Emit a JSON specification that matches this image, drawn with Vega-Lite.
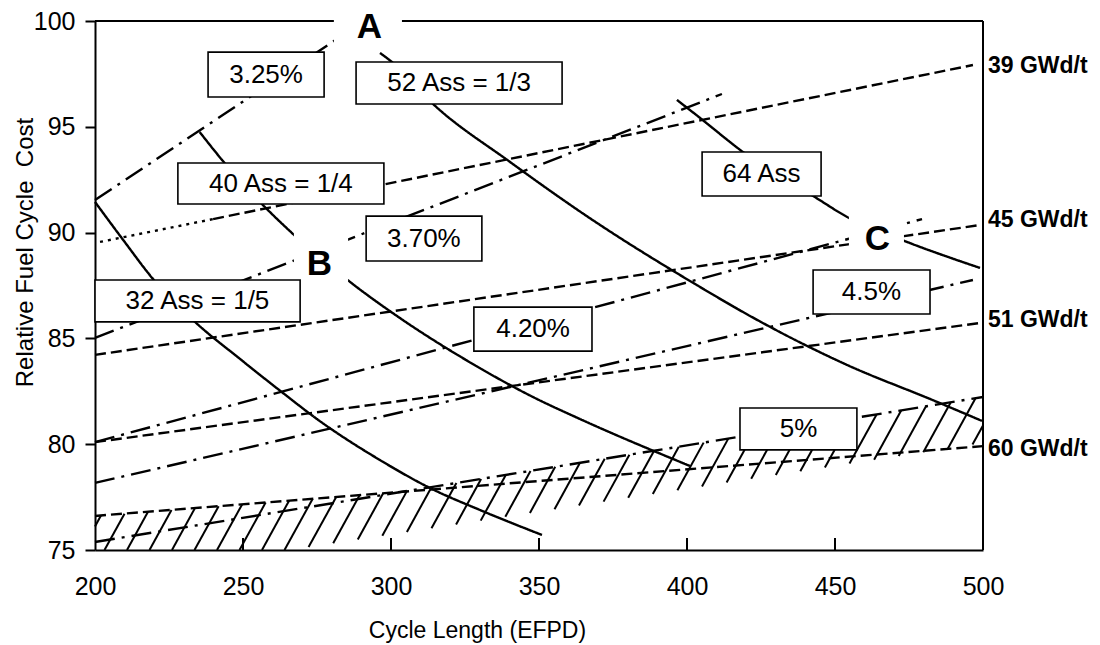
{
  "$schema": "https://vega.github.io/schema/vega-lite/v6.json",
  "width": 888,
  "height": 529,
  "autosize": {"type": "none"},
  "padding": {"left": 95, "top": 21, "right": 117, "bottom": 95},
  "background": "white",
  "config": {
    "view": {"stroke": null},
    "font": "Liberation Sans",
    "axis": {
      "domainColor": "black", "domainWidth": 2, "tickColor": "black", "tickWidth": 2,
      "labelColor": "black", "labelFont": "Liberation Sans", "labelFontSize": 25, "labelFlush": false,
      "grid": false, "titleColor": "black", "titleFont": "Liberation Sans", "titleFontWeight": "normal"
    },
    "axisX": {"ticks": false, "tickSize": 0, "labelPadding": 24, "titleFontSize": 23},
    "axisY": {"tickSize": 10, "labelPadding": 10, "titleFontSize": 24}
  },
  "datasets": {
    "hatch": [
      {"x": 200.00, "y": 76.115, "x2": 202.01, "y2": 76.630},
      {"x": 203.21, "y": 75.000, "x2": 209.97, "y2": 76.715},
      {"x": 210.81, "y": 75.000, "x2": 217.91, "y2": 76.805},
      {"x": 218.41, "y": 75.000, "x2": 225.84, "y2": 76.890},
      {"x": 226.01, "y": 75.000, "x2": 233.78, "y2": 76.980},
      {"x": 233.61, "y": 75.000, "x2": 241.76, "y2": 77.065},
      {"x": 241.22, "y": 75.000, "x2": 249.70, "y2": 77.155},
      {"x": 248.82, "y": 75.000, "x2": 257.64, "y2": 77.241},
      {"x": 256.42, "y": 75.000, "x2": 265.57, "y2": 77.330},
      {"x": 264.02, "y": 75.000, "x2": 273.51, "y2": 77.415},
      {"x": 272.16, "y": 75.137, "x2": 281.49, "y2": 77.505},
      {"x": 280.47, "y": 75.317, "x2": 289.43, "y2": 77.595},
      {"x": 288.78, "y": 75.496, "x2": 297.36, "y2": 77.680},
      {"x": 297.06, "y": 75.676, "x2": 305.37, "y2": 77.783},
      {"x": 305.37, "y": 75.855, "x2": 313.72, "y2": 77.978},
      {"x": 313.68, "y": 76.030, "x2": 322.09, "y2": 78.166},
      {"x": 321.99, "y": 76.210, "x2": 330.44, "y2": 78.355},
      {"x": 330.30, "y": 76.389, "x2": 338.78, "y2": 78.549},
      {"x": 338.62, "y": 76.569, "x2": 347.13, "y2": 78.738},
      {"x": 346.93, "y": 76.748, "x2": 355.47, "y2": 78.932},
      {"x": 355.24, "y": 76.928, "x2": 363.85, "y2": 79.121},
      {"x": 363.51, "y": 77.108, "x2": 372.20, "y2": 79.310},
      {"x": 371.82, "y": 77.287, "x2": 380.54, "y2": 79.504},
      {"x": 380.14, "y": 77.467, "x2": 388.89, "y2": 79.693},
      {"x": 388.45, "y": 77.646, "x2": 397.23, "y2": 79.882},
      {"x": 396.76, "y": 77.826, "x2": 405.61, "y2": 80.075},
      {"x": 405.07, "y": 78.005, "x2": 413.95, "y2": 80.264},
      {"x": 413.38, "y": 78.185, "x2": 422.30, "y2": 80.458},
      {"x": 421.69, "y": 78.365, "x2": 430.64, "y2": 80.647},
      {"x": 430.00, "y": 78.544, "x2": 438.99, "y2": 80.836},
      {"x": 438.28, "y": 78.724, "x2": 447.37, "y2": 81.030},
      {"x": 446.59, "y": 78.903, "x2": 455.71, "y2": 81.219},
      {"x": 454.90, "y": 79.083, "x2": 464.05, "y2": 81.408},
      {"x": 463.21, "y": 79.262, "x2": 472.40, "y2": 81.602},
      {"x": 471.52, "y": 79.442, "x2": 480.74, "y2": 81.791},
      {"x": 479.83, "y": 79.621, "x2": 489.12, "y2": 81.980},
      {"x": 488.14, "y": 79.801, "x2": 497.47, "y2": 82.174},
      {"x": 496.45, "y": 79.981, "x2": 500.00, "y2": 80.884}
    ],
    "curves": [
      {"series": "3.25%", "style": "dashdot", "x": 200, "y": 91.54},
      {"series": "3.25%", "style": "dashdot", "x": 290.9, "y": 100.0},
      {"series": "3.70%", "style": "dashdot", "x": 200, "y": 85.02},
      {"series": "3.70%", "style": "dashdot", "x": 411.8, "y": 96.55},
      {"series": "4.20%", "style": "dashdot", "x": 200, "y": 80.10},
      {"series": "4.20%", "style": "dashdot", "x": 479.4, "y": 90.64},
      {"series": "4.5%", "style": "dashdot", "x": 200, "y": 78.17},
      {"series": "4.5%", "style": "dashdot", "x": 496.6, "y": 87.76},
      {"series": "5%", "style": "dashdot", "x": 200, "y": 75.38},
      {"series": "5%", "style": "dashdot", "x": 500, "y": 82.23},
      {"series": "39 GWd/t a", "style": "dotted", "x": 201.7, "y": 89.56},
      {"series": "39 GWd/t a", "style": "dotted", "x": 239.9, "y": 90.64},
      {"series": "39 GWd/t b", "style": "dashed", "x": 239.9, "y": 90.64},
      {"series": "39 GWd/t b", "style": "dashed", "x": 496.6, "y": 97.92},
      {"series": "45 GWd/t", "style": "dashed", "x": 200, "y": 84.22},
      {"series": "45 GWd/t", "style": "dashed", "x": 499.0, "y": 90.36},
      {"series": "51 GWd/t", "style": "dashed", "x": 200, "y": 80.10},
      {"series": "51 GWd/t", "style": "dashed", "x": 499.0, "y": 85.73},
      {"series": "60 GWd/t", "style": "dashed", "x": 200, "y": 76.61},
      {"series": "60 GWd/t", "style": "dashed", "x": 500, "y": 79.91},
      {"series": "32 Ass", "style": "solid", "x": 200.0, "y": 91.45},
      {"series": "32 Ass", "style": "solid", "x": 209.80, "y": 89.60},
      {"series": "32 Ass", "style": "solid", "x": 219.59, "y": 87.81},
      {"series": "32 Ass", "style": "solid", "x": 233.78, "y": 85.78},
      {"series": "32 Ass", "style": "solid", "x": 248.99, "y": 84.03},
      {"series": "32 Ass", "style": "solid", "x": 263.51, "y": 82.42},
      {"series": "32 Ass", "style": "solid", "x": 274.99, "y": 81.19},
      {"series": "32 Ass", "style": "solid", "x": 296.28, "y": 79.25},
      {"series": "32 Ass", "style": "solid", "x": 313.17, "y": 77.93},
      {"series": "32 Ass", "style": "solid", "x": 330.07, "y": 76.89},
      {"series": "32 Ass", "style": "solid", "x": 351.01, "y": 75.71},
      {"series": "40 Ass", "style": "solid", "x": 235.38, "y": 94.75},
      {"series": "40 Ass", "style": "solid", "x": 243.24, "y": 93.38},
      {"series": "40 Ass", "style": "solid", "x": 256.76, "y": 91.30},
      {"series": "40 Ass", "style": "solid", "x": 266.55, "y": 89.98},
      {"series": "40 Ass", "style": "solid", "x": 286.15, "y": 87.67},
      {"series": "40 Ass", "style": "solid", "x": 303.04, "y": 85.96},
      {"series": "40 Ass", "style": "solid", "x": 325.34, "y": 83.98},
      {"series": "40 Ass", "style": "solid", "x": 347.97, "y": 82.23},
      {"series": "40 Ass", "style": "solid", "x": 363.85, "y": 81.19},
      {"series": "40 Ass", "style": "solid", "x": 401.01, "y": 78.97},
      {"series": "52 Ass", "style": "solid", "x": 296.28, "y": 98.49},
      {"series": "52 Ass", "style": "solid", "x": 300.34, "y": 98.06},
      {"series": "52 Ass", "style": "solid", "x": 314.19, "y": 96.08},
      {"series": "52 Ass", "style": "solid", "x": 340.20, "y": 93.34},
      {"series": "52 Ass", "style": "solid", "x": 366.56, "y": 90.74},
      {"series": "52 Ass", "style": "solid", "x": 404.40, "y": 87.43},
      {"series": "52 Ass", "style": "solid", "x": 421.29, "y": 86.06},
      {"series": "52 Ass", "style": "solid", "x": 453.38, "y": 83.79},
      {"series": "52 Ass", "style": "solid", "x": 483.79, "y": 82.04},
      {"series": "52 Ass", "style": "solid", "x": 499.67, "y": 81.10},
      {"series": "64 Ass", "style": "solid", "x": 396.6, "y": 96.27},
      {"series": "64 Ass", "style": "solid", "x": 404.4, "y": 95.42},
      {"series": "64 Ass", "style": "solid", "x": 418.9, "y": 93.81},
      {"series": "64 Ass", "style": "solid", "x": 443.2, "y": 91.68},
      {"series": "64 Ass", "style": "solid", "x": 454.1, "y": 90.74},
      {"series": "64 Ass", "style": "solid", "x": 474.3, "y": 89.56},
      {"series": "64 Ass", "style": "solid", "x": 499.0, "y": 88.33}
    ],
    "frame": [
      {"x": 200, "y": 100, "x2": 500, "y2": 100},
      {"x": 500, "y": 75, "x2": 500, "y2": 100},
      {"x": 250, "y": 75, "x2": 250, "y2": 75.57},
      {"x": 300, "y": 75, "x2": 300, "y2": 75.57},
      {"x": 350, "y": 75, "x2": 350, "y2": 75.57},
      {"x": 400, "y": 75, "x2": 400, "y2": 75.57},
      {"x": 450, "y": 75, "x2": 450, "y2": 75.57}
    ],
    "gaps": [
      {"letter": "A", "x": 280.7, "x2": 303.7, "y": 98.63, "y2": 100.6},
      {"letter": "B", "x": 267.2, "x2": 285.5, "y": 87.38, "y2": 90.03},
      {"letter": "C", "x": 454.7, "x2": 473.3, "y": 88.61, "y2": 91.07}
    ],
    "boxes": [
      {"label": "3.25%", "x": 238.2, "x2": 277.4, "y": 96.41, "y2": 98.53},
      {"label": "52 Ass = 1/3", "x": 288.2, "x2": 357.8, "y": 96.08, "y2": 98.06},
      {"label": "40 Ass = 1/4", "x": 228.0, "x2": 297.6, "y": 91.35, "y2": 93.29},
      {"label": "64 Ass", "x": 405.1, "x2": 445.3, "y": 91.73, "y2": 93.81},
      {"label": "3.70%", "x": 291.6, "x2": 330.7, "y": 88.66, "y2": 90.78},
      {"label": "32 Ass = 1/5", "x": 200.0, "x2": 269.3, "y": 85.78, "y2": 87.76},
      {"label": "4.20%", "x": 328.0, "x2": 367.9, "y": 84.40, "y2": 86.48},
      {"label": "4.5%", "x": 442.6, "x2": 482.1, "y": 86.15, "y2": 88.23},
      {"label": "5%", "x": 417.9, "x2": 457.4, "y": 79.73, "y2": 81.71}
    ],
    "boxtext": [
      {"label": "3.25%", "x": 257.8, "y": 97.47},
      {"label": "52 Ass = 1/3", "x": 323.0, "y": 97.07},
      {"label": "40 Ass = 1/4", "x": 262.8, "y": 92.32},
      {"label": "64 Ass", "x": 425.2, "y": 92.77},
      {"label": "3.70%", "x": 311.1, "y": 89.72},
      {"label": "32 Ass = 1/5", "x": 234.6, "y": 86.77},
      {"label": "4.20%", "x": 348.0, "y": 85.44},
      {"label": "4.5%", "x": 462.3, "y": 87.19},
      {"label": "5%", "x": 437.7, "y": 80.72}
    ],
    "letters": [
      {"label": "A", "x": 292.74, "y": 99.197},
      {"label": "B", "x": 275.84, "y": 87.996},
      {"label": "C", "x": 464.36, "y": 89.20}
    ],
    "burnup": [
      {"label": "39 GWd/t", "x": 500, "y": 97.87},
      {"label": "45 GWd/t", "x": 500, "y": 90.59},
      {"label": "51 GWd/t", "x": 500, "y": 85.87},
      {"label": "60 GWd/t", "x": 500, "y": 79.75}
    ]
  },
  "layer": [
    {
      "data": {"name": "hatch"},
      "mark": {"type": "rule", "color": "black", "strokeWidth": 2},
      "encoding": {
        "x": {"field": "x", "type": "quantitative", "scale": {"domain": [200, 500], "nice": false, "zero": false},
              "axis": {"values": [200, 250, 300, 350, 400, 450, 500], "title": "Cycle Length (EFPD)", "titleX": 382, "titleY": 87, "titleAlign": "center", "titleBaseline": "alphabetic"}},
        "y": {"field": "y", "type": "quantitative", "scale": {"domain": [75, 100], "nice": false, "zero": false},
              "axis": {"values": [75, 80, 85, 90, 95, 100], "title": "Relative Fuel Cycle\u00a0 Cost", "titleX": -63, "titleY": 231, "titleAngle": -90, "titleAlign": "center", "titleBaseline": "alphabetic"}},
        "x2": {"field": "x2"},
        "y2": {"field": "y2"}
      }
    },
    {
      "data": {"name": "curves"},
      "mark": {"type": "line", "color": "black", "strokeWidth": 2.4, "interpolate": "monotone"},
      "encoding": {
        "x": {"field": "x", "type": "quantitative"},
        "y": {"field": "y", "type": "quantitative"},
        "detail": {"field": "series"},
        "strokeDash": {"field": "style", "type": "nominal", "legend": null,
          "scale": {"domain": ["solid", "dashed", "dashdot", "dotted"], "range": [[1, 0], [11, 5], [20, 7, 3, 7], [3, 5]]}}
      }
    },
    {
      "data": {"name": "frame"},
      "mark": {"type": "rule", "color": "black", "strokeWidth": 2},
      "encoding": {
        "x": {"field": "x", "type": "quantitative"},
        "y": {"field": "y", "type": "quantitative"},
        "x2": {"field": "x2"},
        "y2": {"field": "y2"}
      }
    },
    {
      "data": {"name": "gaps"},
      "mark": {"type": "rect", "fill": "white", "strokeWidth": 0},
      "encoding": {
        "x": {"field": "x", "type": "quantitative"},
        "y": {"field": "y", "type": "quantitative"},
        "x2": {"field": "x2"},
        "y2": {"field": "y2"}
      }
    },
    {
      "data": {"name": "boxes"},
      "mark": {"type": "rect", "fill": "white", "stroke": "black", "strokeWidth": 1.6},
      "encoding": {
        "x": {"field": "x", "type": "quantitative"},
        "y": {"field": "y", "type": "quantitative"},
        "x2": {"field": "x2"},
        "y2": {"field": "y2"}
      }
    },
    {
      "data": {"name": "boxtext"},
      "mark": {"type": "text", "font": "Liberation Sans", "fontSize": 26, "color": "black", "align": "center", "baseline": "middle"},
      "encoding": {
        "x": {"field": "x", "type": "quantitative"},
        "y": {"field": "y", "type": "quantitative"},
        "text": {"field": "label"}
      }
    },
    {
      "data": {"name": "letters"},
      "mark": {"type": "text", "font": "Liberation Sans", "fontSize": 35, "fontWeight": "bold", "color": "black", "align": "center", "baseline": "alphabetic"},
      "encoding": {
        "x": {"field": "x", "type": "quantitative"},
        "y": {"field": "y", "type": "quantitative"},
        "text": {"field": "label"}
      }
    },
    {
      "data": {"name": "burnup"},
      "mark": {"type": "text", "font": "Liberation Sans", "fontSize": 23, "fontWeight": "bold", "color": "black", "align": "left", "baseline": "middle", "dx": 5},
      "encoding": {
        "x": {"field": "x", "type": "quantitative"},
        "y": {"field": "y", "type": "quantitative"},
        "text": {"field": "label"}
      }
    }
  ]
}
